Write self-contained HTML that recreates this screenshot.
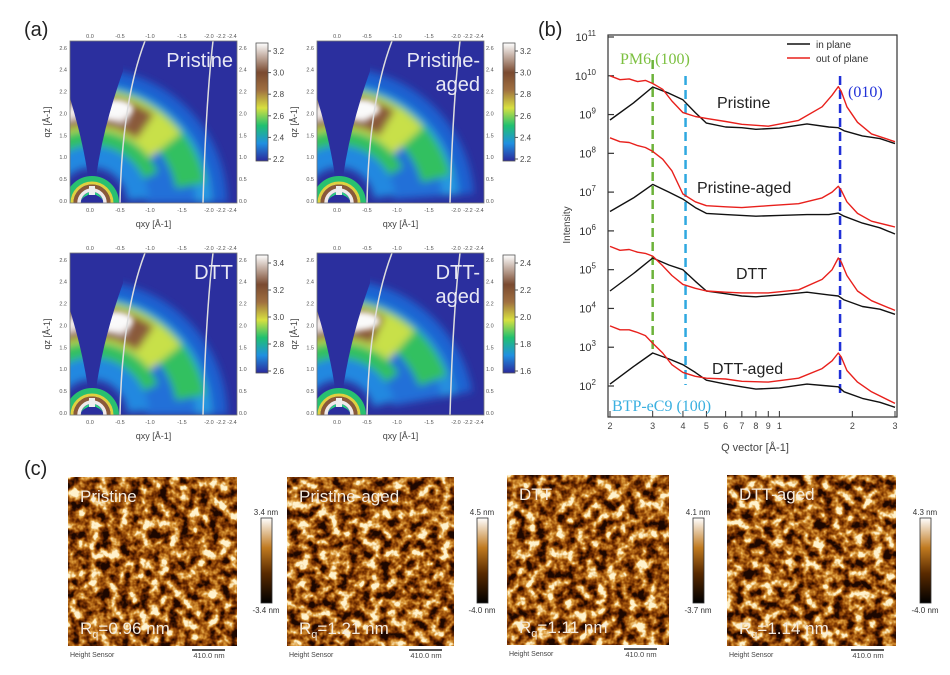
<!DOCTYPE html>
<html><head><meta charset="utf-8">
<style>
html,body{margin:0;padding:0;background:#fff;}
svg{display:block;font-family:"Liberation Sans",sans-serif;}
</style></head>
<body>
<svg id="fig" width="950" height="675" viewBox="0 0 950 675" xmlns="http://www.w3.org/2000/svg">
<defs>
  <filter id="soft" x="-20%" y="-20%" width="140%" height="140%"><feGaussianBlur stdDeviation="4"/></filter>
  <filter id="soft2" x="-50%" y="-50%" width="200%" height="200%"><feGaussianBlur stdDeviation="3"/></filter>
  <linearGradient id="cbGiwaxs" x1="0" y1="1" x2="0" y2="0">
    <stop offset="0" stop-color="#2a2a9c"/>
    <stop offset="0.15" stop-color="#2090e0"/>
    <stop offset="0.3" stop-color="#20c070"/>
    <stop offset="0.45" stop-color="#d8e040"/>
    <stop offset="0.6" stop-color="#a07040"/>
    <stop offset="0.75" stop-color="#7a4a30"/>
    <stop offset="1" stop-color="#ffffff"/>
  </linearGradient>
  <linearGradient id="cbAfm" x1="0" y1="1" x2="0" y2="0">
    <stop offset="0" stop-color="#000"/>
    <stop offset="0.35" stop-color="#5a2a00"/>
    <stop offset="0.65" stop-color="#c07a20"/>
    <stop offset="1" stop-color="#fff"/>
  </linearGradient>
  <filter id="afm" x="0" y="0" width="100%" height="100%" color-interpolation-filters="sRGB">
    <feTurbulence type="fractalNoise" baseFrequency="0.1" numOctaves="3" seed="3"/>
    <feColorMatrix type="matrix" values="2.3 0 0 0 -0.65  2.3 0 0 0 -0.65  2.3 0 0 0 -0.65  0 0 0 0 1"/>
    <feComponentTransfer>
      <feFuncR type="table" tableValues="0.12 0.4 0.64 0.86 1"/>
      <feFuncG type="table" tableValues="0.03 0.15 0.34 0.6 0.95"/>
      <feFuncB type="table" tableValues="0 0 0.05 0.22 0.8"/>
    </feComponentTransfer>
  </filter>
  <filter id="afm2" x="0" y="0" width="100%" height="100%" color-interpolation-filters="sRGB">
    <feTurbulence type="fractalNoise" baseFrequency="0.1" numOctaves="3" seed="11"/>
    <feColorMatrix type="matrix" values="2.3 0 0 0 -0.65  2.3 0 0 0 -0.65  2.3 0 0 0 -0.65  0 0 0 0 1"/>
    <feComponentTransfer>
      <feFuncR type="table" tableValues="0.12 0.4 0.64 0.86 1"/>
      <feFuncG type="table" tableValues="0.03 0.15 0.34 0.6 0.95"/>
      <feFuncB type="table" tableValues="0 0 0.05 0.22 0.8"/>
    </feComponentTransfer>
  </filter>
</defs>
<g id="panelA"></g>
<g id="panelB"></g>
<g id="panelC"></g>
</svg>
<script>
const NS="http://www.w3.org/2000/svg";
function mk(parent,tag,attrs,text){const e=document.createElementNS(NS,tag);for(const k in attrs)e.setAttribute(k,attrs[k]);if(text!==undefined)e.textContent=text;parent.appendChild(e);return e;}

/* ---------- Panel (a) GIWAXS maps ---------- */
const A=document.getElementById('panelA');
const la=mk(A,'text',{x:24,y:36,'font-size':20,fill:'#222'},'(a)');


const maps=[
 {x:70,y:41,name:'Pristine',l1:'Pristine',l2:'',cb:['3.2','3.0','2.8','2.6','2.4','2.2'],cbx:256,k:1},
 {x:317,y:41,name:'Pristine-aged',l1:'Pristine-',l2:'aged',cb:['3.2','3.0','2.8','2.6','2.4','2.2'],cbx:503,k:0.92},
 {x:70,y:253,name:'DTT',l1:'DTT',l2:'',cb:['3.4','3.2','3.0','2.8','2.6'],cbx:256,k:1},
 {x:317,y:253,name:'DTT-aged',l1:'DTT-',l2:'aged',cb:['2.4','2.2','2.0','1.8','1.6'],cbx:503,k:0.8}
];
const bands=[
 [95,80,'#2070d8',0],[126,16,'#1f60d0',0],[112,16,'#2898e0',0],[100,30,'#30c060',10],[93,40,'#c8e048',38],
 [93,30,'#8a5a3a',55],[93,14,'#f2ecec',68],[63,20,'#30c060',25],[46,22,'#2088e0',4]
];
function arc(cx,cy,r,a0,a1){const p=a=>[cx+r*Math.cos(a*Math.PI/180),cy-r*Math.sin(a*Math.PI/180)];const s=p(a0),e=p(a1);return `M${s[0].toFixed(1)},${s[1].toFixed(1)} A${r},${r} 0 ${a1-a0>180?1:0} 0 ${e[0].toFixed(1)},${e[1].toFixed(1)}`;}
maps.forEach((m,i)=>{
  const W=167,H=162;
  const g=mk(A,'g',{});
  
  
  const clip=mk(g,'clipPath',{id:'mc'+i});
  mk(clip,'rect',{x:m.x,y:m.y,width:W,height:H});
  const inner=mk(g,'g',{'clip-path':'url(#mc'+i+')'});
  mk(inner,'rect',{x:m.x,y:m.y,width:W,height:H,fill:'#2b2f9e'});
  const cx=m.x+22,cy=m.y+162;
  const bl=mk(inner,'g',{filter:'url(#soft)'});
  bands.forEach(b=>{
    const end=b[3]+(1-m.k)*50;
    mk(bl,'path',{d:arc(cx,cy,b[0],Math.min(end,86),178),fill:'none',stroke:b[2],'stroke-width':b[1],opacity:m.k<0.9&&b[0]>100?0.75:1});
  });
  mk(inner,'ellipse',{cx:m.x+45,cy:m.y+68,rx:18,ry:9,fill:'#fafafa',filter:'url(#soft2)'});
  // wedge
  mk(inner,'path',{d:`M${m.x-2},${m.y+57} L${m.x},${m.y+57} Q${m.x+16},${m.y+110} ${m.x+20},${m.y+152} L${m.x+24},${m.y+152} Q${m.x+30},${m.y+95} ${m.x+53},${m.y+30} L${m.x+53},${m.y-2} L${m.x-2},${m.y-2}Z`,fill:'#2b2f9e'});
  [[24,'#28c070',6],[20,'#e0d040',3],[16.5,'#8a5a3a',4],[13,'#f0eaea',3.5],[10,'#2ad080',2]].forEach(r=>mk(inner,'circle',{cx:cx,cy:cy,r:r[0],fill:'none',stroke:r[1],'stroke-width':r[2]}));
  mk(inner,'ellipse',{cx:cx,cy:cy-1,rx:11,ry:7,fill:'#2b2f9e'});
  mk(inner,'rect',{x:cx-3,y:cy-17,width:6,height:9,fill:'#eee'});
  mk(inner,'path',{d:`M${m.x+50},${m.y+H} Q${m.x+52},${m.y+60} ${m.x+75},${m.y}`,fill:'none',stroke:'#ddd','stroke-width':1.5});
  mk(inner,'path',{d:`M${m.x+133},${m.y+H} Q${m.x+136},${m.y+60} ${m.x+143},${m.y}`,fill:'none',stroke:'#ddd','stroke-width':1.5});
  mk(g,'rect',{x:m.x,y:m.y,width:W,height:H,fill:'none',stroke:'#777','stroke-width':0.8});
  const t1=mk(g,'text',{x:m.x+W-4,y:m.y+26,'text-anchor':'end','font-size':20,fill:'#e8e8f4'},m.l1);
  
  if(m.l2){const t2=mk(g,'text',{x:m.x+W-4,y:m.y+50,'text-anchor':'end','font-size':20,fill:'#e8e8f4'},m.l2);}
  const xt=['0.0','-0.5','-1.0','-1.5','-2.0','-2.2','-2.4'];
  const xp=[20,50,80,112,139,151,162];
  xt.forEach((t,k)=>{mk(g,'text',{x:m.x+xp[k],y:m.y+H+9,'font-size':5.5,fill:'#555','text-anchor':'middle'},t);mk(g,'text',{x:m.x+xp[k],y:m.y-3,'font-size':5.5,fill:'#555','text-anchor':'middle'},t);});
  const yt=['0.0','0.5','1.0','1.5','2.0','2.2','2.4','2.6'];
  yt.forEach((t,k)=>{const yy=m.y+H-k*(H/7.4);mk(g,'text',{x:m.x-3,y:yy,'font-size':5.5,fill:'#555','text-anchor':'end'},t);mk(g,'text',{x:m.x+W+2,y:yy,'font-size':5.5,fill:'#555'},t);});
  const xl=mk(g,'text',{x:m.x+W/2,y:m.y+H+24,'font-size':9,fill:'#444','text-anchor':'middle'},'qxy [Å-1]');
  
  const yl=mk(g,'text',{x:m.x-20,y:m.y+H/2,'font-size':9,fill:'#444','text-anchor':'middle',transform:`rotate(-90 ${m.x-20} ${m.y+H/2})`},'qz [Å-1]');
  
  const cbg=mk(g,'g',{});
  
  mk(cbg,'rect',{x:m.cbx,y:m.y+2,width:12,height:118,fill:'url(#cbGiwaxs)',stroke:'#555','stroke-width':0.8});
  m.cb.forEach((t,k)=>{const yy=m.y+10+k*(108/(m.cb.length-1));mk(cbg,'line',{x1:m.cbx+12,x2:m.cbx+15,y1:yy,y2:yy,stroke:'#555'});mk(cbg,'text',{x:m.cbx+17,y:yy+3,'font-size':8,fill:'#444'},t);});
});

/* ---------- Panel (b) line profiles ---------- */
const qTicks=[0.2,0.3,0.4,0.5,0.6,0.7,0.8,0.9,1,2,3];
const qTickLabels=['2','3','4','5','6','7','8','9','1','2','3'];
const yExps=[2,3,4,5,6,7,8,9,10,11];
const curveNames=['Pristine','Pristine-aged','DTT','DTT-aged'];
const qIn=[0.2,0.25,0.3,0.35,0.4,0.45,0.5,0.6,0.7,0.8,1.0,1.3,1.6,1.75,1.85,2.2,2.6,3.0];
const inPristine=[8.86,9.3,9.71,9.55,9.38,9.05,8.78,8.68,8.66,8.62,8.65,8.76,8.68,8.66,8.58,8.45,8.38,8.25];
const inPristineAged=[6.5,6.85,7.2,7.0,6.82,6.6,6.45,6.42,6.4,6.38,6.4,6.42,6.42,6.46,6.38,6.2,6.08,5.92];
const inDTT=[4.45,4.9,5.3,5.12,5.0,4.7,4.45,4.38,4.32,4.3,4.35,4.42,4.35,4.32,4.22,4.05,3.98,3.85];
const inDTTaged=[2.05,2.5,2.85,2.7,2.55,2.35,2.15,2.05,1.98,1.92,1.95,2.05,2.0,1.98,1.85,1.68,1.58,1.45];
const qOut=[0.2,0.22,0.24,0.26,0.28,0.3,0.33,0.36,0.4,0.45,0.5,0.6,0.7,0.9,1.2,1.5,1.65,1.75,1.8,1.9,2.1,2.4,3.0];
const outPristine=[10.0,9.9,9.92,9.85,9.88,9.8,9.65,9.35,9.05,8.95,8.9,8.82,8.75,8.7,8.85,9.2,9.5,9.72,9.6,9.2,8.8,8.5,8.3];
const outPristineAged=[8.4,8.3,8.28,8.2,8.15,8.05,7.85,7.55,6.95,6.75,6.65,6.62,6.6,6.65,6.7,6.85,7.0,7.15,7.05,6.75,6.45,6.25,6.1];
const outDTT=[5.6,5.5,5.52,5.45,5.42,5.35,5.1,4.85,4.62,4.52,4.45,4.42,4.4,4.4,4.48,4.75,5.0,5.3,5.2,4.85,4.45,4.2,3.95];
const outDTTaged=[3.55,3.45,3.45,3.38,3.3,3.1,2.85,2.55,2.35,2.25,2.2,2.18,2.12,2.1,2.2,2.45,2.65,2.85,2.75,2.4,2.1,1.85,1.55];
const inSeries=[inPristine,inPristineAged,inDTT,inDTTaged];
const outSeries=[outPristine,outPristineAged,outDTT,outDTTaged];
const peakQ=[0.3,0.41,1.78];

const B=document.getElementById('panelB');
const PX0=610,PX1=895,PY0=37,PY1=386;
const xs=q=>PX0+(Math.log10(q)-Math.log10(0.2))/(Math.log10(3)-Math.log10(0.2))*(PX1-PX0);
const ys=e=>PY0+(11-e)/(11-2)*(PY1-PY0);
const lb=mk(B,'text',{x:538,y:36,'font-size':20,fill:'#222'},'(b)');

const frame=mk(B,'rect',{x:608,y:35,width:289,height:382,fill:'none',stroke:'#333','stroke-width':1.2});

yExps.forEach(e=>{
  const y=ys(e);
  mk(B,'line',{x1:608,x2:614,y1:y,y2:y,stroke:'#333','stroke-width':1.2});
  const t=mk(B,'text',{x:596,y:y+4,'font-size':11,fill:'#333','text-anchor':'end'},'10');
  
  mk(t,'tspan',{dy:-5,'font-size':8},String(e));
});
qTicks.forEach((q,k)=>{
  const x=xs(q);
  mk(B,'line',{x1:x,x2:x,y1:417,y2:411,stroke:'#333','stroke-width':1});
  const t=mk(B,'text',{x:x,y:429,'font-size':9,fill:'#444','text-anchor':'middle'},qTickLabels[k]);
  
});
const xt=mk(B,'text',{x:755,y:451,'font-size':11,fill:'#444','text-anchor':'middle'},'Q vector [Å-1]');

const yt=mk(B,'text',{x:570,y:225,'font-size':10,fill:'#444','text-anchor':'middle',transform:'rotate(-90 570 225)'},'Intensity');

const peakColors=['#6cb33a','#2fa8e0','#2030d8'];
const peakTop=[60,76,76],peakBot=[350,385,398];
peakQ.forEach((q,k)=>{
  const l=mk(B,'line',{x1:xs(q),x2:xs(q),y1:peakTop[k],y2:peakBot[k],stroke:peakColors[k],'stroke-width':2.5,'stroke-dasharray':'9 5'});
  
});
function path(qa,va){return qa.map((q,i)=>(i?'L':'M')+xs(q).toFixed(1)+','+ys(va[i]).toFixed(1)).join(' ');}
inSeries.forEach((s,k)=>{
  const p=mk(B,'path',{d:path(qIn,s),fill:'none',stroke:'#111','stroke-width':1.4,'stroke-linejoin':'round'});
  
});
outSeries.forEach((s,k)=>{
  const p=mk(B,'path',{d:path(qOut,s),fill:'none',stroke:'#e8201c','stroke-width':1.4,'stroke-linejoin':'round'});
  
});
const clab=[[717,108],[697,193],[736,279],[712,374]];
curveNames.forEach((n,k)=>{
  const t=mk(B,'text',{x:clab[k][0],y:clab[k][1],'font-size':16,fill:'#222'},n);
  
});
[['PM6 (100)',620,64,'#7cc040'],['(010)',848,97,'#2030d8'],['BTP-eC9 (100)',612,411,'#3ab0e0']].forEach(a=>{
  const t=mk(B,'text',{x:a[1],y:a[2],'font-size':16,fill:a[3],'font-family':'Liberation Serif, serif'},a[0]);
  
});
const leg=mk(B,'g',{});

mk(leg,'line',{x1:787,x2:810,y1:44,y2:44,stroke:'#111','stroke-width':1.5});
mk(leg,'text',{x:816,y:48,'font-size':10,fill:'#333'},'in plane');
mk(leg,'line',{x1:787,x2:810,y1:58,y2:58,stroke:'#e8201c','stroke-width':1.5});
mk(leg,'text',{x:816,y:62,'font-size':10,fill:'#333'},'out of plane');

/* ---------- Panel (c) AFM ---------- */
const C=document.getElementById('panelC');
const lc=mk(C,'text',{x:24,y:475,'font-size':20,fill:'#222'},'(c)');

const afm=[
 {x:68,y:477,w:169,h:169,t:'Pristine',rq:'=0.96 nm',cbx:261,top:'3.4 nm',bot:'-3.4 nm',f:'afm'},
 {x:287,y:477,w:167,h:169,t:'Pristine-aged',rq:'=1.21 nm',cbx:477,top:'4.5 nm',bot:'-4.0 nm',f:'afm2'},
 {x:507,y:475,w:162,h:170,t:'DTT',rq:'=1.11 nm',cbx:693,top:'4.1 nm',bot:'-3.7 nm',f:'afm'},
 {x:727,y:475,w:169,h:171,t:'DTT-aged',rq:'=1.14 nm',cbx:920,top:'4.3 nm',bot:'-4.0 nm',f:'afm2'}
];
afm.forEach((a,i)=>{
  const g=mk(C,'g',{});
  
  const r0=mk(g,'rect',{x:a.x,y:a.y,width:a.w,height:a.h,filter:'url(#'+a.f+')',fill:'#000'});
  if(i>=2)r0.setAttribute('transform',`translate(${2*a.x+a.w},0) scale(-1,1)`);
  mk(g,'text',{x:a.x+12,y:a.y+25,'font-size':17,fill:'#f4ece0'},a.t);
  const r=mk(g,'text',{x:a.x+12,y:a.y+a.h-12,'font-size':17,fill:'#f4ece0'},'R');
  mk(r,'tspan',{'font-size':11,dy:4},'q');
  mk(r,'tspan',{dy:-4},a.rq);
  mk(g,'text',{x:a.x+2,y:a.y+a.h+11,'font-size':7,fill:'#444'},'Height Sensor');
  mk(g,'line',{x1:a.x+a.w-45,x2:a.x+a.w-12,y1:a.y+a.h+4,y2:a.y+a.h+4,stroke:'#222','stroke-width':1.5});
  mk(g,'text',{x:a.x+a.w-28,y:a.y+a.h+12,'font-size':7.5,fill:'#444','text-anchor':'middle'},'410.0 nm');
  const cb=mk(g,'g',{});
  
  mk(cb,'rect',{x:a.cbx,y:518,width:11,height:85,fill:'url(#cbAfm)',stroke:'#333','stroke-width':0.8});
  mk(cb,'text',{x:a.cbx+5,y:515,'font-size':8,fill:'#333','text-anchor':'middle'},a.top);
  mk(cb,'text',{x:a.cbx+5,y:613,'font-size':8,fill:'#333','text-anchor':'middle'},a.bot);
});
</script>
</body></html>
